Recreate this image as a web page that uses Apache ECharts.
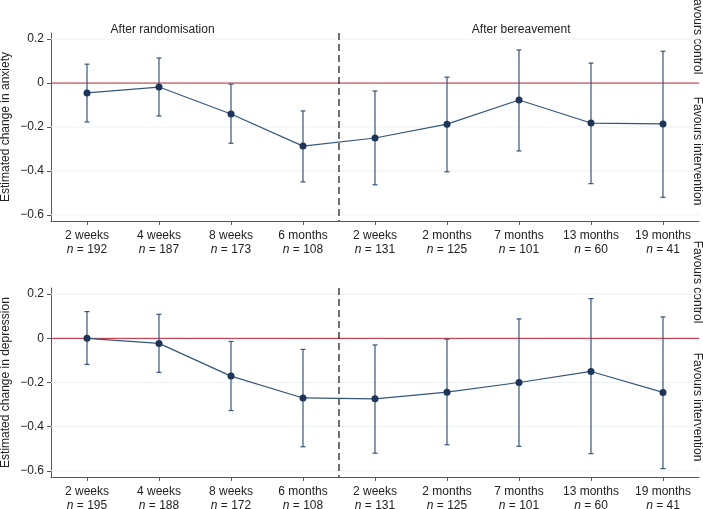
<!DOCTYPE html>
<html>
<head>
<meta charset="utf-8">
<script src="https://cdn.jsdelivr.net/npm/echarts@6/dist/echarts.min.js"></script>
<style>
  html, body { margin: 0; padding: 0; background: #fff; }
  #chart { width: 703px; height: 509px; }
</style>
</head>
<body>
<div id="chart"></div>
<script>
// time points (x positions 1..9), the dashed line sits between 6 months and 2 weeks
const timepoints = ['2 weeks', '4 weeks', '8 weeks', '6 months', '2 weeks', '2 months', '7 months', '13 months', '19 months']
const anxietyN = [192, 187, 173, 108, 131, 125, 101, 60, 41]
const depressionN = [195, 188, 172, 108, 131, 125, 101, 60, 41]

const anxietyEst = [-0.045, -0.018, -0.141, -0.287, -0.25, -0.187, -0.077, -0.182, -0.186]
const anxietyLo = [-0.177, -0.15, -0.274, -0.45, -0.463, -0.404, -0.309, -0.458, -0.52]
const anxietyHi = [0.086, 0.114, -0.005, -0.127, -0.036, 0.027, 0.151, 0.091, 0.145]

const depressionEst = [0, -0.023, -0.171, -0.27, -0.274, -0.244, -0.2, -0.15, -0.245]
const depressionLo = [-0.118, -0.154, -0.327, -0.491, -0.52, -0.482, -0.489, -0.522, -0.59]
const depressionHi = [0.121, 0.109, -0.014, -0.05, -0.03, -0.004, 0.088, 0.18, 0.097]

const yTicks = [-0.6, -0.4, -0.2, 0, 0.2]
const xTicks = [1, 2, 3, 4, 5, 6, 7, 8, 9]
const dividerAt = 4.5
const groupLabels = ['After randomisation', 'After bereavement']

const FONT = '"Liberation Sans", Arial, Helvetica, sans-serif'
const TEXT = '#222'
const NAVY = '#1d3557'
const BAR = '#34557c'

const chart = echarts.init(document.getElementById('chart'))

function xAxisFor(gridIndex, ns) {
  return {
    type: 'value',
    gridIndex,
    min: 0.5,
    max: 9.5,
    axisLine: { onZero: false, lineStyle: { color: '#555', width: 1 } },
    axisTick: { customValues: xTicks, length: 4, lineStyle: { color: '#555' } },
    splitLine: { show: false },
    axisLabel: {
      customValues: xTicks,
      margin: 8,
      formatter: (v) => {
        const i = Math.round(v) - 1
        return `{t|${timepoints[i]}}\n{i|n}{t| = ${ns[i]}}`
      },
      rich: {
        t: { fontFamily: FONT, fontSize: 12, color: TEXT, lineHeight: 14 },
        i: { fontFamily: FONT, fontSize: 12, color: TEXT, lineHeight: 14, fontStyle: 'italic' }
      }
    }
  }
}

function yAxisFor(gridIndex, name) {
  return {
    type: 'value',
    gridIndex,
    min: -0.628,
    max: 0.228,
    name,
    nameLocation: 'middle',
    nameGap: 39,
    nameMoveOverlap: false,
    nameTextStyle: { fontFamily: FONT, fontSize: 12, color: TEXT },
    axisLine: { show: true, onZero: false, lineStyle: { color: '#555', width: 1 } },
    axisTick: { show: true, customValues: yTicks, length: 4, lineStyle: { color: '#555' } },
    splitLine: { show: false },
    axisLabel: {
      customValues: yTicks,
      margin: 7,
      fontFamily: FONT,
      fontSize: 12,
      color: TEXT,
      formatter: (v) => (v === 0 ? '0' : v.toFixed(1).replace('-', '\u2212'))
    }
  }
}

// horizontal guide lines (gridlines / zero reference) drawn through the y scale
function hLines(idx, values, lineStyle, z) {
  return {
    type: 'custom',
    xAxisIndex: idx,
    yAxisIndex: idx,
    z,
    silent: true,
    data: values.map(v => [v]),
    encode: { y: 0 },
    renderItem: (params, api) => {
      const cs = params.coordSys
      const y = api.coord([1, api.value(0)])[1]
      return { type: 'line', shape: { x1: cs.x, y1: y, x2: cs.x + cs.width, y2: y }, style: lineStyle }
    }
  }
}

// vertical divider between the two follow-up phases
function vLine(idx, value) {
  return {
    type: 'custom',
    xAxisIndex: idx,
    yAxisIndex: idx,
    z: 2,
    silent: true,
    data: [[value]],
    encode: { x: 0 },
    renderItem: (params, api) => {
      const cs = params.coordSys
      const x = api.coord([api.value(0), 0])[0]
      return {
        type: 'line',
        shape: { x1: x, y1: cs.y, x2: x, y2: cs.y + cs.height },
        style: { stroke: '#111', lineWidth: 1.2, lineDash: [7, 4] }
      }
    }
  }
}

function errorBars(idx, lo, hi) {
  return {
    type: 'custom',
    xAxisIndex: idx,
    yAxisIndex: idx,
    z: 3,
    silent: true,
    data: xTicks.map((x, i) => [x, lo[i], hi[i]]),
    renderItem: (params, api) => {
      const x = api.value(0)
      const top = api.coord([x, api.value(2)])
      const bot = api.coord([x, api.value(1)])
      const w = 2.5
      const style = { stroke: BAR, lineWidth: 1.2 }
      return {
        type: 'group',
        children: [
          { type: 'line', shape: { x1: top[0], y1: top[1], x2: bot[0], y2: bot[1] }, style },
          { type: 'line', shape: { x1: top[0] - w, y1: top[1], x2: top[0] + w, y2: top[1] }, style },
          { type: 'line', shape: { x1: bot[0] - w, y1: bot[1], x2: bot[0] + w, y2: bot[1] }, style }
        ]
      }
    }
  }
}

function estimateLine(idx, est) {
  return {
    type: 'line',
    xAxisIndex: idx,
    yAxisIndex: idx,
    z: 4,
    silent: true,
    data: xTicks.map((x, i) => [x, est[i]]),
    symbol: 'circle',
    symbolSize: 7,
    lineStyle: { color: BAR, width: 1.2 },
    itemStyle: { color: NAVY }
  }
}

function panel(idx, est, lo, hi) {
  return [
    hLines(idx, yTicks.filter(v => v !== 0), { stroke: '#eef1f4', lineWidth: 1 }, 1),
    hLines(idx, [0], { stroke: '#c41f2f', lineWidth: 1 }, 2),
    vLine(idx, dividerAt),
    errorBars(idx, lo, hi),
    estimateLine(idx, est)
  ]
}

const option = {
  animation: false,
  backgroundColor: '#fff',
  grid: [
    { left: 51, top: 33, width: 648, height: 188, outerBoundsMode: 'none' },
    { left: 51, top: 288, width: 648, height: 189, outerBoundsMode: 'none' }
  ],
  xAxis: [xAxisFor(0, anxietyN), xAxisFor(1, depressionN)],
  yAxis: [
    yAxisFor(0, 'Estimated change in anxiety'),
    yAxisFor(1, 'Estimated change in depression')
  ],
  series: [
    ...panel(0, anxietyEst, anxietyLo, anxietyHi),
    ...panel(1, depressionEst, depressionLo, depressionHi)
  ]
}

chart.setOption(option)

// side annotations
const textStyle = (text) => ({
  text,
  fontFamily: FONT,
  fontSize: 12,
  fill: TEXT,
  textAlign: 'center',
  textVerticalAlign: 'middle',
  align: 'center',
  verticalAlign: 'middle'
})

const sideLabels = []
;[[33, 151], [282, 407]].forEach(([ctrlY, intY]) => {
  sideLabels.push({ type: 'text', x: 697, y: ctrlY, rotation: -Math.PI / 2, style: textStyle('Favours control') })
  sideLabels.push({ type: 'text', x: 697, y: intY, rotation: -Math.PI / 2, style: textStyle('Favours intervention') })
})

// group headings over the top panel
const headingAt = [2.05, 7.03]
headingAt.forEach((v, i) => {
  const px = chart.convertToPixel({ xAxisIndex: 0 }, v)
  sideLabels.push({ type: 'text', x: px, y: 30, style: textStyle(groupLabels[i]) })
})

chart.setOption({ graphic: sideLabels })
</script>
</body>
</html>
